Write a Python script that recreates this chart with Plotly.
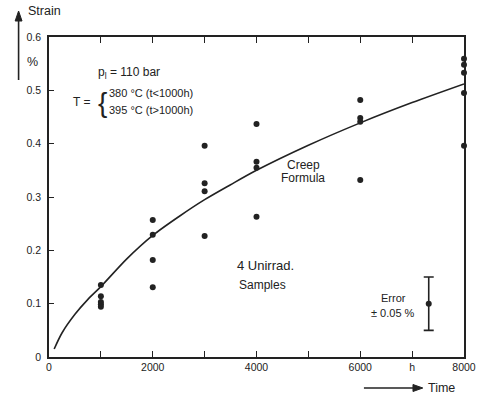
import plotly.graph_objects as go

# Measured strain (%) of four unirradiated samples at each inspection time (h)
sample_time = [1000] * 5 + [2000] * 4 + [3000] * 4 + [4000] * 4 + [6000] * 4 + [8000] * 5
sample_strain = [0.135, 0.114, 0.103, 0.099, 0.094,
                 0.257, 0.229, 0.182, 0.131,
                 0.396, 0.326, 0.311, 0.227,
                 0.437, 0.366, 0.355, 0.263,
                 0.482, 0.448, 0.441, 0.332,
                 0.559, 0.548, 0.533, 0.495, 0.396]

# Creep formula curve
curve_time = [100, 250, 500, 750, 1000, 1500, 2000, 2500, 3000, 3500,
              4000, 5000, 6000, 7000, 8000]
curve_strain = [0.015, 0.045, 0.080, 0.108, 0.132, 0.184, 0.228, 0.263, 0.295, 0.323,
                0.350, 0.397, 0.439, 0.477, 0.512]

# Error indicator
err_time = [7320]
err_strain = [0.10]
err_half = [0.05]

x_ticks = [0, 2000, 4000, 6000, 7000, 8000]
x_labels = ["0", "2000", "4000", "6000", "h", "8000"]
x_minor = [1000, 3000, 5000]
y_ticks = [0, 0.1, 0.2, 0.3, 0.4, 0.5, 0.6]
y_labels = ["0", "0.1", "0.2", "0.3", "0.4", "0.5", "0.6"]

ink = "#222222"
font = "Liberation Sans"

W, H = 488, 399
ML, MR, MT, MB = 49, 16, 37, 42
PW, PH = W - ML - MR, H - MT - MB


def px(x, y):
    """Pixel position on the page -> paper coordinates."""
    return (x - ML) / PW, (H - MB - y) / PH


fig = go.Figure()
fig.add_trace(go.Scatter(x=curve_time, y=curve_strain, mode="lines",
                         line=dict(color=ink, width=1.6, shape="spline", smoothing=0.8),
                         hoverinfo="skip"))
fig.add_trace(go.Scatter(x=sample_time, y=sample_strain, mode="markers",
                         marker=dict(color=ink, size=6), cliponaxis=False))
fig.add_trace(go.Scatter(x=err_time, y=err_strain, mode="markers",
                         marker=dict(color=ink, size=6),
                         error_y=dict(type="data", array=err_half, color=ink,
                                      thickness=1.6, width=5)))

ann = [
    dict(x=1551, y=0.533, text="p<sub>l</sub> = 110 bar", size=12),
    dict(x=624, y=0.478, text="T =", size=12),
    dict(x=1030, y=0.478, text="{", size=28),
    dict(x=1116, y=0.495, text="380 °C (t<1000h)", size=11, xanchor="left"),
    dict(x=1116, y=0.463, text="395 °C (t>1000h)", size=11, xanchor="left"),
    dict(x=4898, y=0.360, text="Creep", size=12),
    dict(x=4898, y=0.335, text="Formula", size=12),
    dict(x=4180, y=0.171, text="4 Unirrad.", size=13),
    dict(x=4123, y=0.135, text="Samples", size=12),
    dict(x=6638, y=0.111, text="Error", size=11),
    dict(x=6638, y=0.082, text="± 0.05 %", size=11),
]
for a in ann:
    fig.add_annotation(x=a["x"], y=a["y"], text=a["text"], showarrow=False,
                       xanchor=a.get("xanchor", "center"), yanchor="middle",
                       font=dict(family=font, size=a["size"], color=ink))

# Axis titles outside the frame
for (tx, ty), text, anchor in [(px(26, 11), "Strain", "left"),
                               (px(32, 62), "%", "center"),
                               (px(433, 388), "Time", "left")]:
    fig.add_annotation(xref="paper", yref="paper", x=tx, y=ty, text=text,
                       showarrow=False, xanchor=anchor, yanchor="middle",
                       font=dict(family=font, size=12.5, color=ink))

# Arrows beside the axis titles
shapes = []
x0, y0 = px(18, 80)
x1, y1 = px(18, 18)
shapes.append(dict(type="line", xref="paper", yref="paper", x0=x0, y0=y0, x1=x1, y1=y1,
                   line=dict(color=ink, width=1.6)))
a, b, c = px(18, 11), px(14.5, 21), px(21.5, 21)
shapes.append(dict(type="path", xref="paper", yref="paper",
                   path=f"M{a[0]},{a[1]} L{b[0]},{b[1]} L{c[0]},{c[1]} Z",
                   fillcolor=ink, line=dict(color=ink, width=1)))
x0, y0 = px(370, 388)
x1, y1 = px(422, 388)
shapes.append(dict(type="line", xref="paper", yref="paper", x0=x0, y0=y0, x1=x1, y1=y1,
                   line=dict(color=ink, width=1.6)))
a, b, c = px(430, 388), px(420, 384.5), px(420, 391.5)
shapes.append(dict(type="path", xref="paper", yref="paper",
                   path=f"M{a[0]},{a[1]} L{b[0]},{b[1]} L{c[0]},{c[1]} Z",
                   fillcolor=ink, line=dict(color=ink, width=1)))

fig.update_xaxes(range=[0, 8000], tickvals=x_ticks, ticktext=x_labels,
                 ticks="inside", ticklen=6, tickwidth=1.4, tickcolor=ink,
                 minor=dict(tickvals=x_minor, ticks="inside", ticklen=6,
                            tickwidth=1.4, tickcolor=ink),
                 showline=True, linewidth=1.6, linecolor=ink, mirror="ticks",
                 showgrid=False, zeroline=False,
                 tickfont=dict(family=font, size=10.5, color=ink))
fig.update_yaxes(range=[0, 0.6], tickvals=y_ticks, ticktext=y_labels,
                 ticks="inside", ticklen=5, tickwidth=1.4, tickcolor=ink,
                 ticklabelstandoff=4,
                 showline=True, linewidth=1.6, linecolor=ink, mirror=True,
                 showgrid=False, zeroline=False,
                 tickfont=dict(family=font, size=10.5, color=ink))

fig.update_layout(width=W, height=H, showlegend=False, shapes=shapes,
                  plot_bgcolor="white", paper_bgcolor="white",
                  margin=dict(l=ML, r=MR, t=MT, b=MB))

fig.write_html("out.html")
